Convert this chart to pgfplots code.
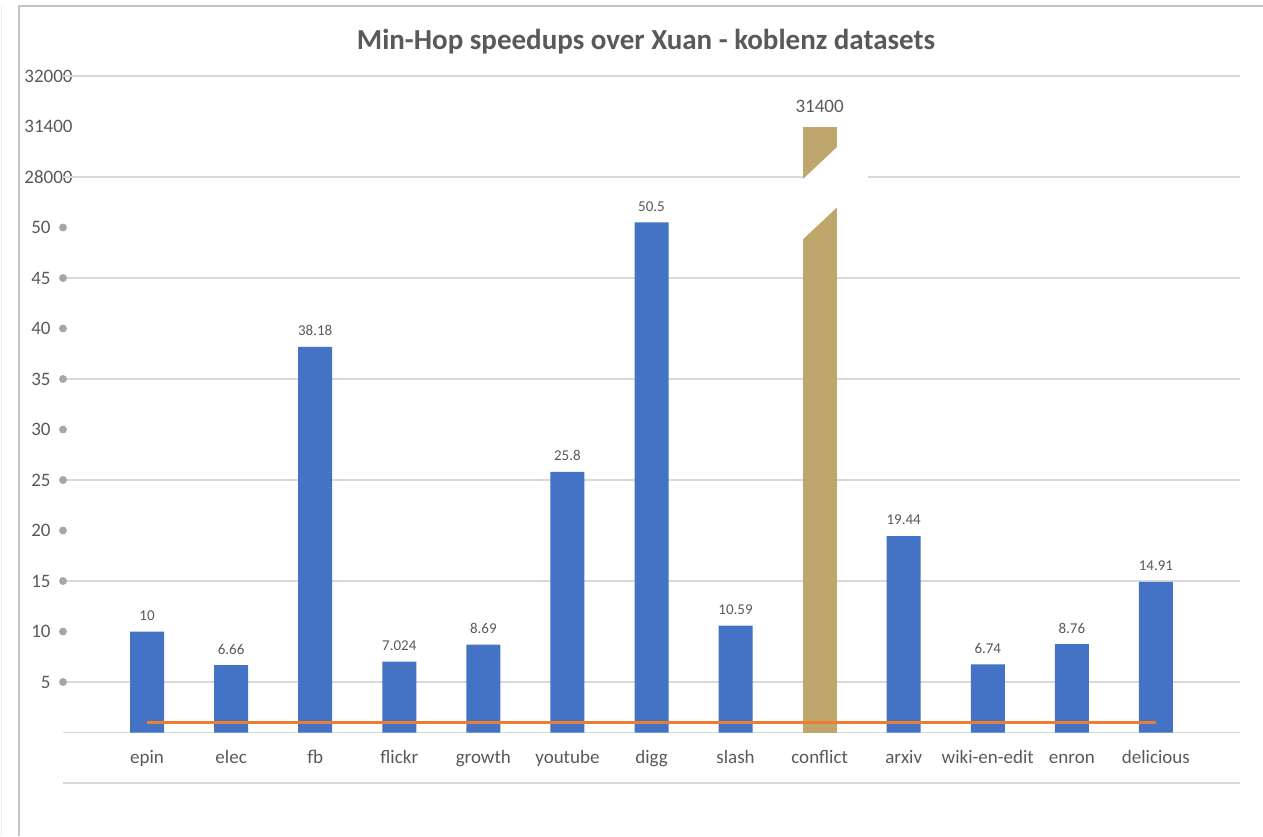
\documentclass[border=0pt]{standalone}
\usepackage{pgfplots}
\pgfplotsset{compat=1.18}
\usepackage{fontspec}
\setmainfont{Carlito}
\definecolor{barblue}{RGB}{68,114,196}
\definecolor{lineorange}{RGB}{237,125,49}
\definecolor{tanbar}{RGB}{190,166,108}
\definecolor{gridgray}{RGB}{217,217,217}
\definecolor{textgray}{RGB}{89,89,89}
\definecolor{dotgray}{RGB}{166,166,166}
\definecolor{framegray}{RGB}{196,196,196}
\begin{document}
\begin{tikzpicture}
\useasboundingbox (0pt,0pt) rectangle (631.5pt,418pt);
\draw[framegray, line width=1pt] (9.5pt,0pt) -- (9.5pt,415pt) -- (631.5pt,415pt);
\draw[gray!15, line width=0.5pt] (0.6pt,0pt) -- (0.6pt,415pt);
\begin{axis}[
  at={(31.5pt,26.5pt)}, anchor=south west,
  scale only axis, width=588.5pt, height=353.5pt,
  xmin=-1, xmax=13, ymin=-5, ymax=65,
  axis line style={draw=none},
  major tick length=0pt,
  clip=false,
  ytick={5,10,15,20,25,30,35,40,45,50,55,60,65},
  yticklabels={5,10,15,20,25,30,35,40,45,50,28000\hspace*{-11pt},31400\hspace*{-11pt},32000\hspace*{-11pt}},
  extra y ticks={-5,0,5,15,25,35,45,55,65},
  extra y tick labels={},
  extra y tick style={grid=major},
  grid style={gridgray, line width=0.7pt},
  yticklabel style={anchor=east, inner sep=0pt, xshift=-6pt, font=\fontsize{9.5}{11}\selectfont, text=textgray},
  xtick={0,1,2,3,4,5,6,7,8,9,10,11,12},
  xticklabels={epin,elec,fb,flickr,growth,youtube,digg,slash,conflict,arxiv,wiki-en-edit,enron,delicious},
  xticklabel style={anchor=base, inner sep=0pt, yshift=10pt, font=\fontsize{9.5}{11}\selectfont, text=textgray},
]
\addplot[ybar, bar width=17pt, bar shift=0pt, fill=barblue, draw=none,
  nodes near coords, point meta=explicit symbolic,
  every node near coord/.append style={font=\fontsize{7.5}{9}\selectfont, text=textgray, anchor=center, inner sep=0pt, yshift=8pt}]
  coordinates {
  (0,10) [10]
  (1,6.66) [6.66]
  (2,38.18) [38.18]
  (3,7.024) [7.024]
  (4,8.69) [8.69]
  (5,25.8) [25.8]
  (6,50.5) [50.5]
  (7,10.59) [10.59]
  (9,19.44) [19.44]
  (10,6.74) [6.74]
  (11,8.76) [8.76]
  (12,14.91) [14.91]
  };
\addplot[ybar, bar width=17pt, bar shift=0pt, fill=tanbar, draw=none,
  nodes near coords, point meta=explicit symbolic,
  every node near coord/.append style={font=\fontsize{9.5}{11}\selectfont, text=textgray, anchor=center, inner sep=0pt, yshift=10pt}]
  coordinates {(8,60) [31400]};
\fill[white] (axis cs:7.778,54.6) -- (axis cs:8.575,60.85) -- (axis cs:8.575,54.9) -- (axis cs:7.778,48.66) -- cycle;
\addplot[lineorange, line width=1.6pt] coordinates {(0,1) (12,1)};
\addplot[only marks, mark=*, mark size=1.75pt, color=dotgray] coordinates {
  (-1,5) (-1,10) (-1,15) (-1,20) (-1,25) (-1,30) (-1,35) (-1,40) (-1,45) (-1,50)};
\end{axis}
\node[font=\fontsize{14.5}{17}\selectfont\bfseries, text=textgray] at (323pt,397pt) {Min-Hop speedups over Xuan - koblenz datasets};
\end{tikzpicture}
\end{document}
